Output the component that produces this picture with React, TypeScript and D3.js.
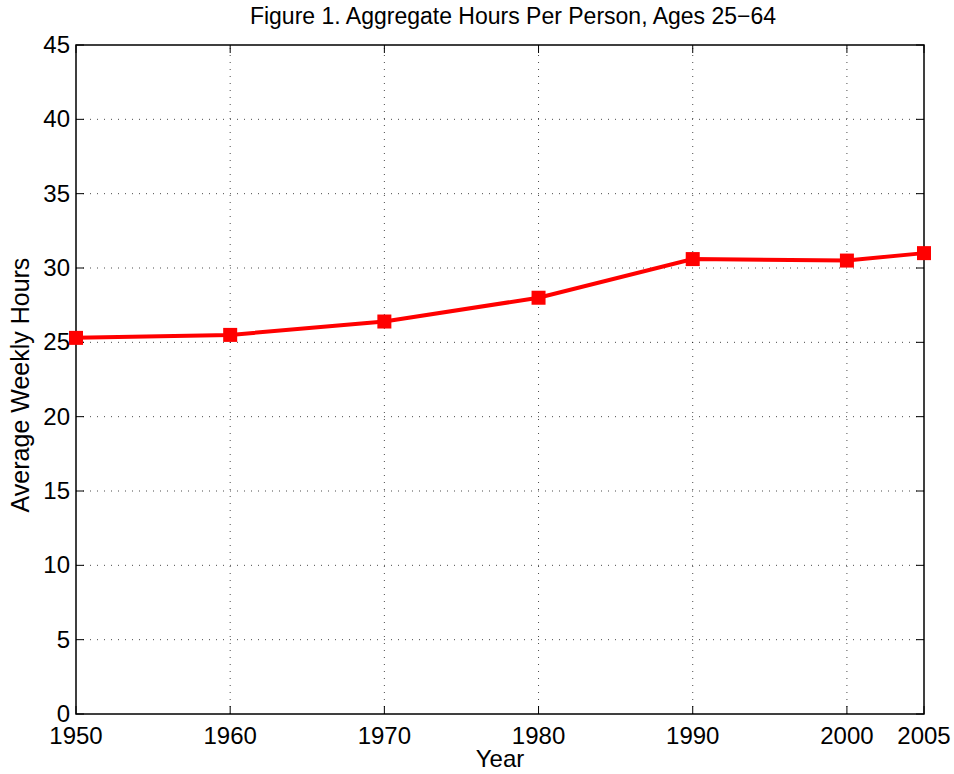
import React, { useEffect, useRef } from "react";
import * as d3 from "d3";

const years = [1950, 1960, 1970, 1980, 1990, 2000, 2005];
const hours = [25.3, 25.5, 26.4, 28.0, 30.6, 30.5, 31.0];
const xTicks = [1950, 1960, 1970, 1980, 1990, 2000, 2005];
const yTicks = [0, 5, 10, 15, 20, 25, 30, 35, 40, 45];

const W = 954, H = 774;
const M = { left: 76, right: 30, top: 45, bottom: 60 };

export default function App() {
  const ref = useRef<SVGSVGElement>(null);
  useEffect(() => {
    const svg = d3.select(ref.current);
    svg.selectAll("*").remove();
    const x = d3.scaleLinear().domain([1950, 2005]).range([M.left, W - M.right]);
    const y = d3.scaleLinear().domain([0, 45]).range([H - M.bottom, M.top]);
    const font = "'Liberation Sans', Arial, Helvetica, sans-serif";
    const x0 = x(1950), x1 = x(2005), y0 = y(0), y1 = y(45);

    svg.append("rect").attr("x", 0).attr("y", 0).attr("width", W).attr("height", H).attr("fill", "#fff");

    const g = svg.append("g");
    g.selectAll(".vg").data(xTicks.filter(d => d !== 1950 && d !== 2005)).enter().append("line")
      .attr("x1", d => x(d)).attr("x2", d => x(d)).attr("y1", y0).attr("y2", y1)
      .attr("stroke", "#000").attr("stroke-width", 1).attr("stroke-dasharray", "1,6").attr("opacity", 0.7);
    g.selectAll(".hg").data(yTicks.filter(d => d !== 0 && d !== 45)).enter().append("line")
      .attr("x1", x0).attr("x2", x1).attr("y1", d => y(d)).attr("y2", d => y(d))
      .attr("stroke", "#000").attr("stroke-width", 1).attr("stroke-dasharray", "1,6").attr("opacity", 0.7);

    const tl = 8;
    xTicks.forEach(d => {
      g.append("line").attr("x1", x(d)).attr("x2", x(d)).attr("y1", y0).attr("y2", y0 - tl).attr("stroke", "#000");
      g.append("line").attr("x1", x(d)).attr("x2", x(d)).attr("y1", y1).attr("y2", y1 + tl).attr("stroke", "#000");
    });
    yTicks.forEach(d => {
      g.append("line").attr("x1", x0).attr("x2", x0 + tl).attr("y1", y(d)).attr("y2", y(d)).attr("stroke", "#000");
      g.append("line").attr("x1", x1).attr("x2", x1 - tl).attr("y1", y(d)).attr("y2", y(d)).attr("stroke", "#000");
    });

    g.append("rect").attr("x", x0).attr("y", y1).attr("width", x1 - x0).attr("height", y0 - y1)
      .attr("fill", "none").attr("stroke", "#000").attr("stroke-width", 1.5);

    g.selectAll(".xl").data(xTicks).enter().append("text")
      .attr("x", d => x(d)).attr("y", y0 + 30).attr("text-anchor", "middle")
      .attr("font-family", font).attr("font-size", 24).text(d => String(d));
    g.selectAll(".yl").data(yTicks).enter().append("text")
      .attr("x", x0 - 6).attr("y", d => y(d) + 8).attr("text-anchor", "end")
      .attr("font-family", font).attr("font-size", 24).text(d => String(d));

    const line = d3.line<number>().x((_, i) => x(years[i])).y(d => y(d));
    g.append("path").datum(hours).attr("d", line).attr("fill", "none").attr("stroke", "#ff0000").attr("stroke-width", 4);
    g.selectAll(".mk").data(hours).enter().append("rect")
      .attr("x", (_, i) => x(years[i]) - 7).attr("y", d => y(d) - 7).attr("width", 14).attr("height", 14)
      .attr("fill", "#ff0000");

    svg.append("text").attr("x", (x0 + x1) / 2 + 13).attr("y", 24).attr("text-anchor", "middle")
      .attr("font-family", font).attr("font-size", 23).text("Figure 1. Aggregate Hours Per Person, Ages 25\u221264");
    svg.append("text").attr("x", (x0 + x1) / 2).attr("y", 767).attr("text-anchor", "middle")
      .attr("font-family", font).attr("font-size", 24).text("Year");
    svg.append("text").attr("transform", `translate(29,385) rotate(-90)`).attr("text-anchor", "middle")
      .attr("font-family", font).attr("font-size", 25).text("Average Weekly Hours");
  }, []);
  return <svg ref={ref} width={W} height={H} style={{ display: "block", position: "absolute", left: 0, top: 0 }} />;
}
